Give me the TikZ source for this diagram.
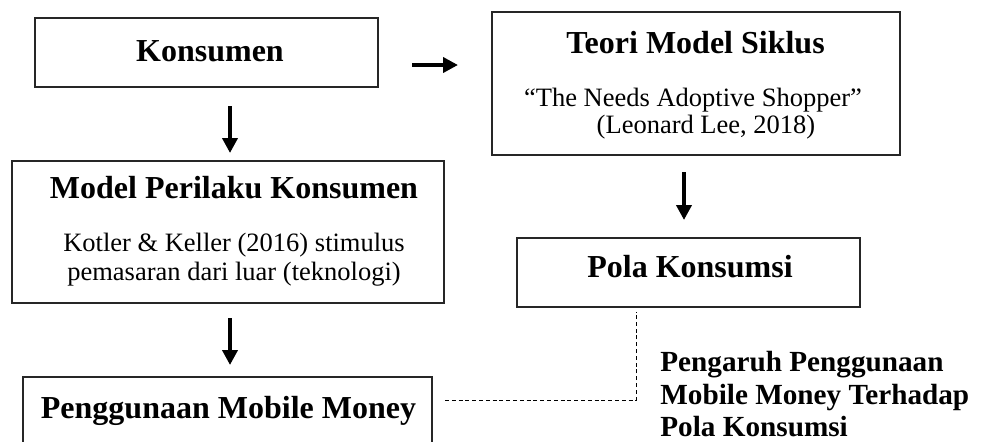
\documentclass[tikz,border=0pt]{standalone}
\usepackage{fontspec}
\setmainfont{Liberation Serif}
\usetikzlibrary{arrows.meta}
\tikzset{
  box/.style={draw=black!85, line width=0.65pt, rectangle, inner sep=0pt, outer sep=0pt},
  ttl/.style={anchor=base, font=\bfseries\fontsize{16}{19}\selectfont, inner sep=0pt},
  sub/.style={anchor=base, font=\fontsize{13.25}{15}\selectfont, inner sep=0pt},
  lbl/.style={anchor=base west, font=\bfseries\fontsize{14.6}{17}\selectfont, inner sep=0pt},
  arr/.style={line width=2pt, -{Triangle[length=7.5pt, width=7.5pt]}},
  dashline/.style={line width=0.45pt, dash pattern=on 2pt off 1.4pt}
}
\begin{document}
\begin{tikzpicture}[x=0.5pt, y=-0.5pt]
\clip (0,0) rectangle (982,441);
\fill[white] (0,0) rectangle (982,441);

% boxes
\node[box, minimum width=171.5pt, minimum height=34.5pt] (kons) at (206.5,52.5) {};
\node[box, minimum width=204pt, minimum height=71.5pt] (teori) at (696,83.5) {};
\node[box, minimum width=216pt, minimum height=71pt] (model) at (228,232) {};
\node[box, minimum width=204.5pt, minimum height=51.5pt] (pengg) at (227.5,428.5) {};
\node[box, minimum width=171.5pt, minimum height=34.5pt] (pola) at (688.5,272.5) {};

% texts
\node[ttl] (t1) at (210,61) {Konsumen};
\node[ttl] (t2) at (695.5,53) {Teori Model Siklus};
\node[sub] (t2a) at (693,106) {“The Needs Adoptive Shopper”};
\node[sub] (t2b) at (706,133) {(Leonard Lee, 2018)};
\node[ttl] (t3) at (234,198) {Model Perilaku Konsumen};
\node[sub] (t3a) at (234,251) {Kotler \& Keller (2016) stimulus};
\node[sub] (t3b) at (234,280) {pemasaran dari luar (teknologi)};
\node[ttl] (t4) at (228.5,418) {Penggunaan Mobile Money};
\node[ttl] (t5) at (690,277) {Pola Konsumsi};
\node[lbl] (l1) at (660,371) {Pengaruh Penggunaan};
\node[lbl] (l2) at (660,404) {Mobile Money Terhadap};
\node[lbl] (l3) at (660,436) {Pola Konsumsi};

% connector guides
\coordinate (ax1) at (230,0);
\coordinate (ay2) at (0,65);
\coordinate (ax4) at (684,0);
\coordinate (bend) at (636,400);

% arrows
\draw[arr, shorten <=9.5pt, shorten >=4pt] (kons.south -| ax1) -- (model.north -| ax1);
\draw[arr, shorten <=17pt, shorten >=17pt] (kons.east |- ay2) -- (teori.west |- ay2);
\draw[arr, shorten <=7.5pt, shorten >=6pt] (model.south -| ax1) -- (pengg.north -| ax1);
\draw[arr, shorten <=8.5pt, shorten >=9pt] (teori.south -| ax4) -- (pola.north -| ax4);

% dashed link
\draw[dashline, shorten <=6.5pt, shorten >=2.5pt] (pengg.east |- bend) -- (bend) -- (pola.south -| bend);
\end{tikzpicture}
\end{document}
